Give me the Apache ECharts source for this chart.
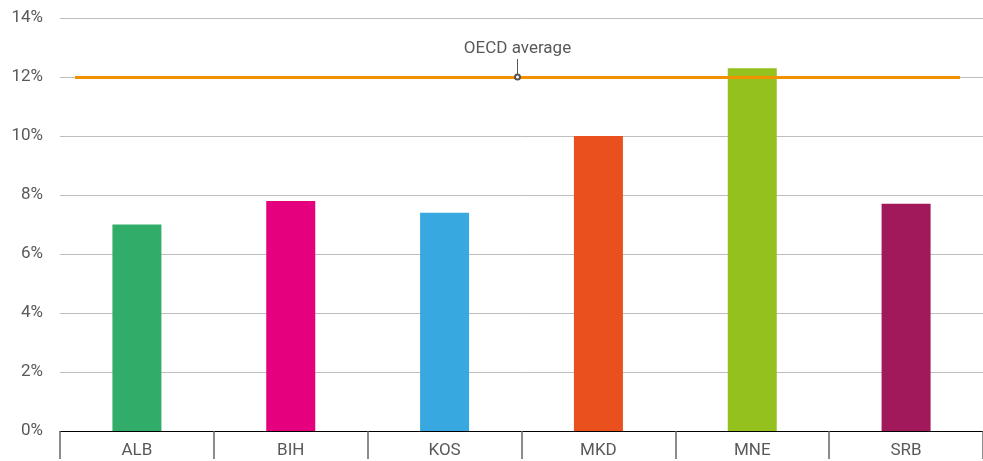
<!DOCTYPE html>
<html>
<head>
<meta charset="utf-8">
<title>Share by economy</title>
<script src="https://cdn.jsdelivr.net/npm/echarts@6/dist/echarts.min.js"></script>
<style>
  html, body { margin: 0; padding: 0; background: #ffffff; }
  #chart { width: 983px; height: 461px; }
</style>
</head>
<body>
<div id="chart"></div>
<script>
// Economies and their values (%)
const categories = ['ALB', 'BIH', 'KOS', 'MKD', 'MNE', 'SRB'];
const values = [7.0, 7.8, 7.4, 10.0, 12.3, 7.7];
const barColors = ['#32AD69', '#E5007E', '#37A9E0', '#E9501E', '#95C11F', '#A2195B'];

// Reference line
const oecdAverage = 12;
const oecdLabel = 'OECD average';

// Value axis scale
const yMin = 0;
const yMax = 14;
const yStep = 2;

const FONT = 'Roboto';
const TEXT = '#595959';

// Horizontal span of the reference line and position of its callout (px)
const refLineStart = 75;
const refLineEnd = 960;
const refMid = (refLineStart + refLineEnd) / 2;
const calloutTop = 59;

const chart = echarts.init(document.getElementById('chart'), null, { renderer: 'canvas' });

chart.setOption({
  animation: false,
  backgroundColor: '#ffffff',
  grid: { left: 60, right: -5, top: 18, bottom: 30, containLabel: false },
  xAxis: {
    type: 'category',
    data: categories,
    boundaryGap: true,
    axisLine: { show: true, lineStyle: { color: '#000000', width: 1 } },
    axisTick: { show: true, length: 28, lineStyle: { color: '#666666', width: 1.5 } },
    axisLabel: { margin: 11, fontFamily: FONT, fontSize: 17, color: TEXT },
    splitLine: { show: false }
  },
  yAxis: {
    type: 'value',
    min: yMin,
    max: yMax,
    interval: yStep,
    axisLine: { show: false },
    axisTick: { show: false },
    axisLabel: {
      margin: 17,
      fontFamily: FONT,
      fontSize: 17,
      color: TEXT,
      formatter: '{value}%'
    },
    splitLine: { show: true, lineStyle: { color: '#bdbdbd', width: 1 } }
  },
  series: [{
    type: 'bar',
    data: values.map((v, i) => ({ value: v, itemStyle: { color: barColors[i] } })),
    barWidth: 49,
    markLine: {
      silent: true,
      animation: false,
      data: [
        [
          { yAxis: oecdAverage, x: refLineStart, symbol: 'none',
            lineStyle: { color: '#F29100', width: 3, type: 'solid' },
            label: { show: false } },
          { yAxis: oecdAverage, x: refLineEnd, symbol: 'none' }
        ],
        [
          { yAxis: oecdAverage, x: refMid, symbol: 'emptyCircle', symbolSize: 5,
            lineStyle: { color: '#555555', width: 1, type: 'solid' },
            label: {
              show: true,
              position: 'end',
              distance: 2,
              formatter: oecdLabel,
              fontFamily: FONT,
              fontSize: 17,
              color: TEXT
            } },
          { x: refMid, y: calloutTop, symbol: 'none' }
        ]
      ]
    }
  }]
});
</script>
</body>
</html>
